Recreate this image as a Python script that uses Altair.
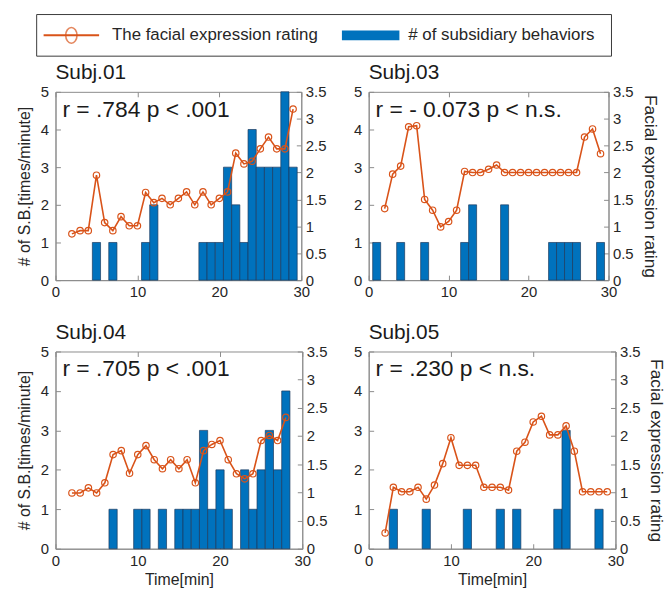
import altair as alt
import pandas as pd

FONT = "Liberation Sans"
BLUE = "#0072BD"
EDGE = "#1c3a5e"
ORANGE = "#D95319"
AXIS = "#8c8c8c"
INK = "#262626"

LEGEND_LABELS = ["The facial expression rating", "# of subsidiary behaviors"]

SUBJECTS = ["Subj.01", "Subj.03", "Subj.04", "Subj.05"]
STATS = ["r = .784 p < .001", "r = - 0.073 p < n.s.",
         "r = .705 p < .001", "r = .230 p < n.s."]

# number of subsidiary behaviours per minute (bars, left axis)
S01_SB_T = [5, 7, 11, 12, 18, 19, 20, 21, 22, 23, 24, 25, 26, 27, 28, 29]
S01_SB_N = [1, 1, 1, 2, 1, 1, 1, 3, 2, 1, 4, 3, 3, 3, 5, 3]
S03_SB_T = [1, 4, 7, 12, 13, 17, 23, 24, 25, 26, 29]
S03_SB_N = [1, 1, 1, 1, 2, 2, 1, 1, 1, 1, 1]
S04_SB_T = [7, 10, 11, 13, 15, 16, 17, 18, 19, 20, 21, 23, 24, 25, 26, 27, 28]
S04_SB_N = [1, 1, 1, 1, 1, 1, 1, 3, 1, 2, 1, 2, 1, 2, 3, 2, 4]
S05_SB_T = [3, 7, 12, 16, 18, 23, 24, 28]
S05_SB_N = [1, 1, 1, 1, 1, 1, 3, 1]

# facial expression rating per minute (line, right axis)
S01_FE_T = list(range(2, 30))
S01_FE = [0.86, 0.92, 0.92, 1.95, 1.07, 0.92, 1.18, 1.01, 1.01, 1.63,
          1.44, 1.52, 1.40, 1.52, 1.64, 1.40, 1.64, 1.40, 1.52, 1.64,
          2.36, 2.16, 2.21, 2.44, 2.66, 2.44, 2.44, 3.18]
S03_FE_T = list(range(2, 30))
S03_FE = [1.33, 1.97, 2.12, 2.85, 2.87, 1.50, 1.30, 0.99, 1.09, 1.30,
          2.02, 2.00, 2.00, 2.06, 2.14, 2.00, 2.00, 2.00, 2.00, 2.00,
          2.00, 2.00, 2.00, 2.00, 2.00, 2.66, 2.81, 2.35]
S04_FE_T = list(range(2, 29))
S04_FE = [0.99, 0.99, 1.08, 0.99, 1.17, 1.67, 1.74, 1.34, 1.67, 1.83,
          1.58, 1.42, 1.58, 1.42, 1.58, 1.17, 1.74, 1.85, 1.92, 1.58,
          1.33, 1.24, 1.33, 1.92, 2.01, 1.92, 2.33]
S05_FE_T = list(range(2, 30))
S05_FE = [0.28, 1.09, 1.01, 1.01, 1.09, 0.88, 1.13, 1.51, 1.97, 1.48,
          1.48, 1.48, 1.09, 1.09, 1.09, 1.04, 1.73, 1.89, 2.25, 2.35,
          2.02, 2.02, 2.18, 1.73, 1.01, 1.01, 1.01, 1.01]

X_TICKS = [0, 10, 20, 30]
SB_TICKS = [0, 1, 2, 3, 4, 5]
FE_TICKS = [0, 0.5, 1, 1.5, 2, 2.5, 3, 3.5]

# ticks drawn on the inside of the frame
INWARD = {"expr": "-5"}


def panel(idx, sb_t, sb_n, fe_t, fe_v, w, h, left_title, right_title, x_title):
    xscale = alt.Scale(domain=[0, 30], nice=False, zero=False)

    x_bottom = dict(values=X_TICKS, tickSize=INWARD, labelPadding=10,
                    labelFlush=False, titlePadding=3, titleFontSize=16)
    x_bottom["title"] = x_title if x_title else None

    y_left = dict(values=SB_TICKS, tickSize=INWARD, labelPadding=12,
                  titlePadding=8, titleFontSize=16)
    y_left["title"] = left_title if left_title else None

    y_right = dict(values=FE_TICKS, tickSize=INWARD, labelPadding=9,
                   format="~g", orient="right", titlePadding=7,
                   titleFontSize=17.5)
    y_right["title"] = right_title if right_title else None

    bars = alt.Chart(pd.DataFrame({"t": sb_t, "n": sb_n})).transform_calculate(
        t0="datum.t - 0.5", t1="datum.t + 0.5", base="0"
    ).mark_bar(color=BLUE, stroke=EDGE, strokeWidth=0.7).encode(
        x=alt.X("t0:Q", scale=xscale, axis=alt.Axis(**x_bottom)),
        x2="t1:Q",
        y=alt.Y("n:Q", scale=alt.Scale(domain=[0, 5], nice=False),
                axis=alt.Axis(**y_left)),
        y2="base:Q",
    )

    line = alt.Chart(pd.DataFrame({"t": fe_t, "r": fe_v})).mark_line(
        color=ORANGE, strokeWidth=1.6,
        point=alt.OverlayMarkDef(filled=False, color=ORANGE, size=42,
                                 strokeWidth=1.2),
    ).encode(
        x=alt.X("t:Q", scale=xscale,
                axis=alt.Axis(values=X_TICKS, orient="top", labels=False,
                              domain=False, tickSize=INWARD, title=None)),
        y=alt.Y("r:Q", scale=alt.Scale(domain=[0, 3.5], nice=False),
                axis=alt.Axis(**y_right)),
    )

    note = alt.Chart(pd.DataFrame({"s": [STATS[idx]]})).mark_text(
        align="left", baseline="middle", font=FONT, fontSize=23, color="#1a1a1a"
    ).encode(text="s:N", x=alt.value(7), y=alt.value(18))

    return alt.layer(bars, line, note).resolve_scale(
        y="independent"
    ).resolve_axis(x="independent").properties(
        width=w, height=h,
        title=alt.TitleParams(SUBJECTS[idx], anchor="start", frame="group",
                              font=FONT, fontSize=21, fontWeight="normal",
                              color="#1a1a1a", offset=2),
    )


YL = "# of S.B.[times/minute]"
YR = "Facial expression rating"
XT = "Time[min]"

p1 = panel(0, S01_SB_T, S01_SB_N, S01_FE_T, S01_FE, 248, 190, YL, None, None)
p2 = panel(1, S03_SB_T, S03_SB_N, S03_FE_T, S03_FE, 242, 190, None, YR, None)
p3 = panel(2, S04_SB_T, S04_SB_N, S04_FE_T, S04_FE, 249, 199, YL, None, XT)
p4 = panel(3, S05_SB_T, S05_SB_N, S05_FE_T, S05_FE, 249, 199, None, YR, XT)

grid = alt.concat(p1, p2, p3, p4, columns=2,
                  spacing={"row": 20, "column": 25})

# legend drawn as its own small chart, above the panels
lg = pd.DataFrame({"label": LEGEND_LABELS})
box = alt.Chart(lg.head(1)).mark_rect(fill="white", stroke="#3a3a3a",
                                      strokeWidth=1).encode(
    x=alt.value(-19), x2=alt.value(561), y=alt.value(0), y2=alt.value(42))
rule = alt.Chart(lg.head(1)).mark_rule(color=ORANGE, strokeWidth=2).encode(
    x=alt.value(-12), x2=alt.value(44), y=alt.value(21))
marker = alt.Chart(lg.head(1)).mark_point(
    shape="M0,-1A0.72,1 0 1,1 0,1A0.72,1 0 1,1 0,-1Z", size=250,
    filled=False, color=ORANGE, strokeWidth=1.6).encode(
    x=alt.value(16), y=alt.value(21))
swatch = alt.Chart(lg.head(1)).mark_rect(color=BLUE).encode(
    x=alt.value(289), x2=alt.value(347), y=alt.value(16), y2=alt.value(26))
txt1 = alt.Chart(lg.head(1)).mark_text(
    align="left", baseline="middle", font=FONT, fontSize=17, color=INK
).encode(text="label:N", x=alt.value(57), y=alt.value(21))
txt2 = alt.Chart(lg.tail(1)).mark_text(
    align="left", baseline="middle", font=FONT, fontSize=17, color=INK
).encode(text="label:N", x=alt.value(356), y=alt.value(21))
legend = alt.layer(box, rule, marker, swatch, txt1, txt2).properties(
    width=540, height=42, view=alt.ViewBackground(stroke="transparent"))

chart = alt.vconcat(legend, grid, spacing=4).properties(
    padding={"left": 16, "top": 11, "right": 0, "bottom": 0}
).configure_view(stroke=AXIS, strokeWidth=1).configure_axis(
    domainColor=AXIS, tickColor=AXIS, labelColor=INK, titleColor=INK,
    labelFont=FONT, titleFont=FONT, labelFontSize=15, grid=False,
    titleFontWeight="normal",
)

chart.save("out.html", embed_options={"renderer": "svg", "actions": False})
